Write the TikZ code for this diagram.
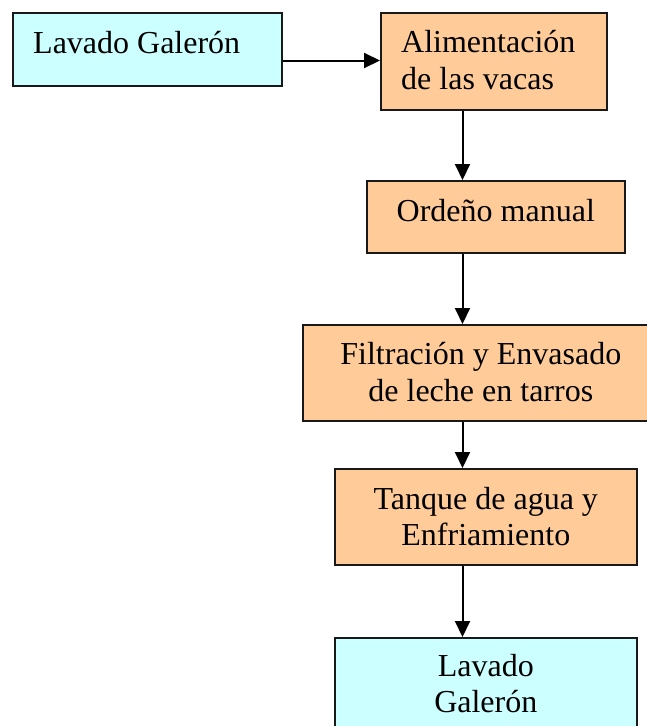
\documentclass[tikz,border=0pt]{standalone}
\usepackage{fontspec}
\setmainfont{Liberation Serif}
\usetikzlibrary{arrows.meta,calc}
\definecolor{cyanbox}{HTML}{CCFFFF}
\definecolor{orangebox}{HTML}{FFCC99}
\tikzset{
  box/.style={draw=black!90, line width=1.6pt, rectangle, inner sep=0pt, anchor=north west},
  cbox/.style={box, fill=cyanbox},
  obox/.style={box, fill=orangebox},
  txt/.style={inner sep=0pt, font=\fontsize{32}{37.6}\selectfont},
  arr/.style={line width=2pt, -{Triangle[length=16pt,width=15pt]}}
}
\begin{document}
\begin{tikzpicture}[x=1pt,y=-1pt]
\useasboundingbox (0,0) rectangle (647,726);
\node[cbox, minimum width=269pt, minimum height=73pt] (b1) at (12,12) {};
\node[obox, minimum width=226pt, minimum height=97pt] (b2) at (380,12) {};
\node[obox, minimum width=258pt, minimum height=72pt] (b3) at (366,180) {};
\node[obox, minimum width=356pt, minimum height=96pt] (b4) at (302,324) {};
\node[obox, minimum width=302pt, minimum height=96pt] (b5) at (334,468) {};
\node[cbox, minimum width=302pt, minimum height=110pt] (b6) at (334,637) {};

\node[txt, anchor=base west] (t1) at ($(b1.north west)+(21,41)$) {Lavado Galerón};
\node[txt, anchor=base west] (t2a) at ($(b2.north west)+(21,40)$) {Alimentación};
\node[txt, anchor=base west] (t2b) at ($(b2.north west)+(21,77)$) {de las vacas};
\node[txt, anchor=base] (t3) at ($(b3.north)+(0,41)$) {Ordeño manual};
\node[txt, anchor=base] (t4a) at ($(b4.north)+(0,40)$) {Filtración y Envasado};
\node[txt, anchor=base] (t4b) at ($(b4.north)+(0,77)$) {de leche en tarros};
\node[txt, anchor=base] (t5a) at ($(b5.north)+(0,41)$) {Tanque de agua y};
\node[txt, anchor=base] (t5b) at ($(b5.north)+(0,77)$) {Enfriamiento};
\node[txt, anchor=base] (t6a) at ($(b6.north)+(0,39)$) {Lavado};
\node[txt, anchor=base] (t6b) at ($(b6.north)+(0,75)$) {Galerón};

\coordinate (ax) at (462.5,0);
\coordinate (ay) at (0,60.5);
\draw[arr] (b1.east |- ay) -- (b2.west |- ay);
\draw[arr] (b2.south -| ax) -- (b3.north -| ax);
\draw[arr] (b3.south -| ax) -- (b4.north -| ax);
\draw[arr] (b4.south -| ax) -- (b5.north -| ax);
\draw[arr] (b5.south -| ax) -- (b6.north -| ax);
\end{tikzpicture}
\end{document}
